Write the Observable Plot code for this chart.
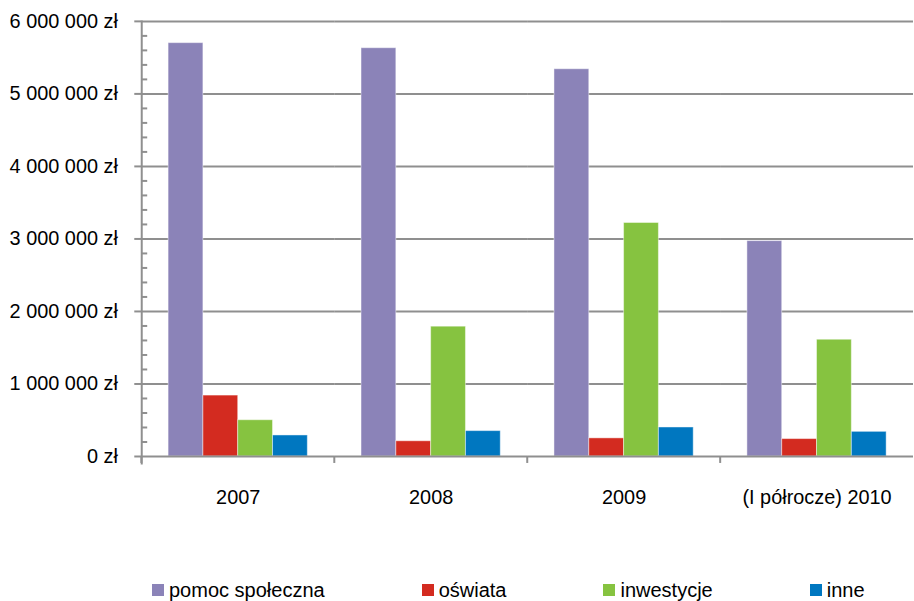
<!DOCTYPE html>
<html>
<head>
<meta charset="utf-8">
<script src="https://cdn.jsdelivr.net/npm/d3@7"></script>
<script src="https://cdn.jsdelivr.net/npm/@observablehq/plot@0.6"></script>
<style>
  html, body { margin: 0; padding: 0; background: #fff; overflow: hidden; width: 914px; height: 601px; }
  #chart { position: relative; width: 914px; overflow: hidden; }
  .legend { display: flex; gap: 97px; padding-left: 152px; padding-top: 41px; height: 24px;
    font-family: 'Liberation Sans', Arial, sans-serif; font-size: 20px; line-height: 25px; color: #000; }
  .legend .item { display: flex; align-items: center; white-space: nowrap; }
  .legend .sw { width: 12px; height: 12px; margin-right: 5px; display: inline-block; }
</style>
</head>
<body>
<div id="chart"></div>
<script>
const years = ["2007", "2008", "2009", "(I półrocze) 2010"];
const series = ["pomoc społeczna", "oświata", "inwestycje", "inne"];
const pomoc = [5700000, 5630000, 5340000, 2970000];
const oswiata = [840000, 210000, 250000, 240000];
const inwestycje = [500000, 1790000, 3220000, 1610000];
const inne = [290000, 350000, 400000, 340000];
const colors = ["#8B83B8", "#D32B20", "#86C340", "#0077C0"];
const yTicks = [0, 1000000, 2000000, 3000000, 4000000, 5000000, 6000000];
const minorTicks = [200000, 400000, 600000, 800000, 1200000, 1400000, 1600000, 1800000,
  2200000, 2400000, 2600000, 2800000, 3200000, 3400000, 3600000, 3800000,
  4200000, 4400000, 4600000, 4800000, 5200000, 5400000, 5600000, 5800000];

const valuesBySeries = [pomoc, oswiata, inwestycje, inne];
const data = years.flatMap((y, i) => series.map((s, j) => ({year: y, series: s, value: valuesBySeries[j][i]})));

const locale = d3.formatLocale({decimal: ",", thousands: " ", grouping: [3], currency: ["", " zł"]});
const fmt = d => locale.format(",")(d) + " zł";

const W = 919, ML = 140, MR = 0;
const step = (W - ML - MR) / years.length;
const gray = "#8f8f8f";
const font = "'Liberation Sans', Arial, sans-serif";

const chart = Plot.plot({
  width: W,
  height: 540,
  marginLeft: ML,
  marginRight: MR,
  marginTop: 21,
  marginBottom: 81.5,
  style: {fontFamily: font, fontSize: "20px", color: "#000", background: "#fff", overflow: "visible"},
  fx: {domain: years, padding: 0, label: null, axis: null},
  x: {domain: series, paddingOuter: 0.75, paddingInner: 0, axis: null},
  y: {domain: [0, 6000000], axis: null},
  color: {domain: series, range: colors},
  marks: [
    Plot.ruleY(yTicks.slice(1), {stroke: gray, strokeWidth: 2}),
    Plot.barY(data, {fx: "year", x: "series", y: "value", fill: "series", stroke: "#fff", strokeOpacity: 0.45, strokeWidth: 1}),
    Plot.ruleY([0], {stroke: gray, strokeWidth: 2}),
    Plot.frame({anchor: "left", facetAnchor: "left", stroke: gray, strokeWidth: 2, insetBottom: -7}),
    Plot.axisY({ticks: yTicks, label: null, tickSize: 7, tickPadding: 17, tickFormat: fmt, stroke: gray, strokeWidth: 2, fill: "#000"}),
    Plot.axisY({ticks: minorTicks, label: null, tickSize: 6, tickPadding: 0, tickFormat: () => "", dx: 6, stroke: gray, strokeWidth: 2}),
    Plot.axisFx({anchor: "bottom", tickSize: 0, tickPadding: 34, label: null, fill: "#000"}),
    Plot.axisFx({anchor: "bottom", tickSize: 7, tickPadding: 0, label: null, tickFormat: () => "", dx: -step / 2, stroke: gray, strokeWidth: 2})
  ]
});
document.getElementById("chart").appendChild(chart);

const legend = document.createElement("div");
legend.className = "legend";
series.forEach((s, i) => {
  const item = document.createElement("div");
  item.className = "item";
  const sw = document.createElement("span");
  sw.className = "sw";
  sw.style.background = colors[i];
  item.appendChild(sw);
  item.appendChild(document.createTextNode(s));
  legend.appendChild(item);
});
document.body.appendChild(legend);
</script>
</body>
</html>
